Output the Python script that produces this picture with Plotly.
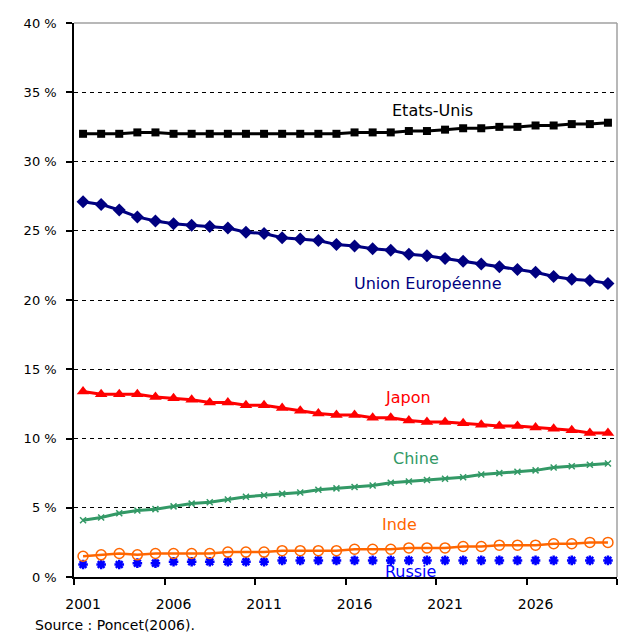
import plotly.graph_objects as go

years = list(range(2001, 2031))

etats_unis = [32.0, 32.0, 32.0, 32.1, 32.1, 32.0, 32.0, 32.0, 32.0, 32.0,
              32.0, 32.0, 32.0, 32.0, 32.0, 32.1, 32.1, 32.1, 32.2, 32.2,
              32.3, 32.4, 32.4, 32.5, 32.5, 32.6, 32.6, 32.7, 32.7, 32.8]
union_europeenne = [27.1, 26.9, 26.5, 26.0, 25.7, 25.5, 25.4, 25.3, 25.2, 24.9,
                    24.8, 24.5, 24.4, 24.3, 24.0, 23.9, 23.7, 23.6, 23.3, 23.2,
                    23.0, 22.8, 22.6, 22.4, 22.2, 22.0, 21.7, 21.5, 21.4, 21.2]
japon = [13.4, 13.2, 13.2, 13.2, 13.0, 12.9, 12.8, 12.6, 12.6, 12.4,
         12.4, 12.2, 12.0, 11.8, 11.7, 11.7, 11.5, 11.5, 11.3, 11.2,
         11.2, 11.1, 11.0, 10.9, 10.9, 10.8, 10.7, 10.6, 10.4, 10.4]
chine = [4.1, 4.3, 4.6, 4.8, 4.9, 5.1, 5.3, 5.4, 5.6, 5.8,
         5.9, 6.0, 6.1, 6.3, 6.4, 6.5, 6.6, 6.8, 6.9, 7.0,
         7.1, 7.2, 7.4, 7.5, 7.6, 7.7, 7.9, 8.0, 8.1, 8.2]
inde = [1.5, 1.6, 1.7, 1.6, 1.7, 1.7, 1.7, 1.7, 1.8, 1.8,
        1.8, 1.9, 1.9, 1.9, 1.9, 2.0, 2.0, 2.0, 2.1, 2.1,
        2.1, 2.2, 2.2, 2.3, 2.3, 2.3, 2.4, 2.4, 2.5, 2.5]
russie = [0.9, 0.9, 0.9, 1.0, 1.0, 1.1, 1.1, 1.1, 1.1, 1.1,
          1.1, 1.2, 1.2, 1.2, 1.2, 1.2, 1.2, 1.2, 1.2, 1.2,
          1.2, 1.2, 1.2, 1.2, 1.2, 1.2, 1.2, 1.2, 1.2, 1.2]

x_tick_labels = ["2001", "2006", "2011", "2016", "2021", "2026"]
y_ticks = [0, 5, 10, 15, 20, 25, 30, 35, 40]
y_tick_labels = ["0 %", "5 %", "10 %", "15 %", "20 %", "25 %", "30 %", "35 %", "40 %"]

series_labels = ["Etats-Unis", "Union Européenne", "Japon", "Chine", "Inde", "Russie"]

LBL_FONT = "DejaVu Sans"

fig = go.Figure()

fig.add_trace(go.Scatter(x=years, y=russie, mode="markers", name="Russie",
                         marker=dict(symbol="asterisk-open", size=8, color="#0000FF",
                                     line=dict(color="#0000FF", width=2.5))))
fig.add_trace(go.Scatter(x=years, y=inde, mode="lines+markers", name="Inde",
                         line=dict(color="#FF6600", width=2.5),
                         marker=dict(symbol="circle-open", size=10, color="#FF6600",
                                     line=dict(color="#FF6600", width=1.5))))
fig.add_trace(go.Scatter(x=years, y=chine, mode="lines+markers", name="Chine",
                         line=dict(color="#339966", width=3),
                         marker=dict(symbol="x-thin-open", size=6, color="#339966",
                                     line=dict(color="#339966", width=1.5))))
fig.add_trace(go.Scatter(x=years, y=japon, mode="lines+markers", name="Japon",
                         line=dict(color="#FF0000", width=3),
                         marker=dict(symbol="triangle-up", size=11, color="#FF0000")))
fig.add_trace(go.Scatter(x=years, y=union_europeenne, mode="lines+markers", name="Union Européenne",
                         line=dict(color="#000080", width=3),
                         marker=dict(symbol="diamond", size=10, color="#000080")))
fig.add_trace(go.Scatter(x=years, y=etats_unis, mode="lines+markers", name="Etats-Unis",
                         line=dict(color="#000000", width=3),
                         marker=dict(symbol="square", size=8, color="#000000")))

# Series labels
label_specs = [
    ("Etats-Unis", 2020.3, 33.7, "#000000"),
    ("Union Européenne", 2020.05, 21.2, "#000080"),
    ("Japon", 2018.95, 12.95, "#FF0000"),
    ("Chine", 2019.4, 8.55, "#339966"),
    ("Inde", 2018.5, 3.8, "#FF6600"),
]
for txt, lx, ly, col in label_specs:
    fig.add_annotation(x=lx, y=ly, text=txt, showarrow=False,
                       font=dict(family=LBL_FONT, size=16, color=col))

# Russie label, clipped by the plot area like the original
fig.add_trace(go.Scatter(x=[2019.1], y=[0.3], mode="text", text=[series_labels[5]],
                         textfont=dict(family=LBL_FONT, size=16, color="#0000FF"),
                         cliponaxis=True, hoverinfo="skip"))

fig.add_annotation(xref="paper", yref="paper", x=-0.076, y=-0.087, xanchor="left", yanchor="middle",
                   text="Source : Poncet(2006).", showarrow=False,
                   font=dict(family=LBL_FONT, size=14, color="#000000"))

# Gray top and right frame
fig.add_shape(type="line", xref="paper", yref="paper", x0=0, x1=1, y0=1, y1=1,
              line=dict(color="#A0A0A0", width=1.5), layer="above")
fig.add_shape(type="line", xref="paper", yref="paper", x0=1, x1=1, y0=0, y1=1,
              line=dict(color="#A0A0A0", width=1.5), layer="above")

fig.update_layout(
    width=637, height=634,
    margin=dict(l=74, r=20, t=23, b=57),
    paper_bgcolor="white", plot_bgcolor="white",
    showlegend=False,
    xaxis=dict(
        range=[2000.5, 2030.5],
        tickmode="array",
        tickvals=[int(t) for t in x_tick_labels],
        ticktext=x_tick_labels,
        ticks="outside", ticklen=13, tickcolor="rgba(0,0,0,0)",
        tickfont=dict(family=LBL_FONT, size=14, color="#000000"),
        showgrid=False, zeroline=False,
        showline=True, linecolor="#000000", linewidth=1.5,
        minor=dict(tickmode="array", tickvals=[2000.5 + 5 * k for k in range(7)],
                   ticks="outside", ticklen=6, tickcolor="#000000", tickwidth=1.5,
                   showgrid=False),
    ),
    yaxis=dict(
        range=[0, 40],
        tickmode="array", tickvals=y_ticks, ticktext=y_tick_labels,
        ticks="outside", ticklen=6, tickcolor="#000000", tickwidth=1.5,
        ticklabelstandoff=7,
        tickfont=dict(family=LBL_FONT, size=13, color="#000000"),
        showgrid=True, gridcolor="#000000", gridwidth=1, griddash="4px,4px",
        zeroline=False,
        showline=True, linecolor="#000000", linewidth=1.5,
    ),
)

fig.write_html("out.html", config={"displayModeBar": False},
               post_script="document.body.style.margin='0px';")
